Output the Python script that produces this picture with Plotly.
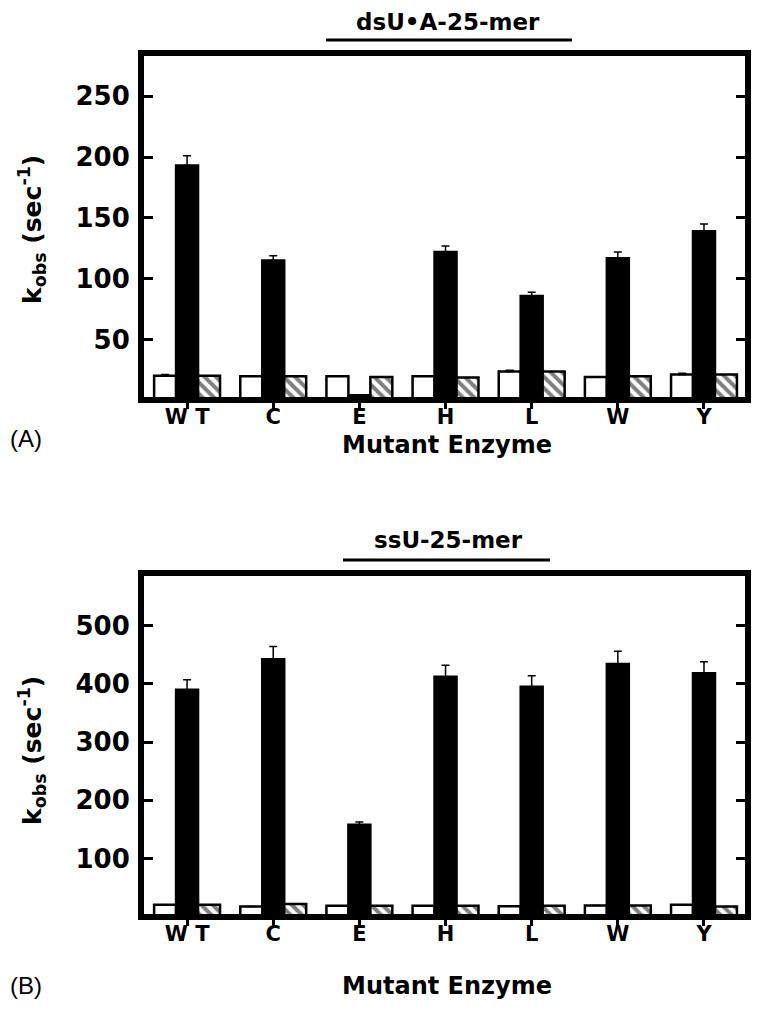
import plotly.graph_objects as go

categories = ["W T", "C", "E", "H", "L", "W", "Y"]

# Panel A: dsU•A-25-mer
a_open = [20.5, 20, 20, 20, 24, 19.5, 21.5]
a_open_err = [1, 0, 0, 0, 1, 0, 1]
a_black = [193, 115, 4.5, 122, 86, 117, 139]
a_black_err = [8, 4, 0, 5, 3, 5, 6]
a_hatch = [20.5, 20, 19.5, 19, 24, 20, 21.5]

# Panel B: ssU-25-mer
b_open = [21, 18, 19, 19, 18.5, 19.5, 21]
b_black = [390, 442, 158, 412, 395, 434, 418]
b_black_err = [17, 22, 5, 20, 19, 22, 20]
b_hatch = [21, 22, 19, 19, 19, 19.5, 18]

a_ticks = [50, 100, 150, 200, 250]
b_ticks = [100, 200, 300, 400, 500]

FONT = "DejaVu Sans"
OFF = 8  # page body margin
W_, H_ = 762, 1015
# inner plot-area edges in screen pixels
SL, SR, ST, SB = 144, 745, 56, 914
A_BOT, B_TOP = 397, 576
L = SL - OFF
T = ST - OFF
R = W_ - (SR - OFF)
B = H_ - (SB - OFF)
PW, PH = SR - SL, SB - ST


def px(x):
    return (x - SL) / PW


def py(y):
    return (SB - y) / PH


line = dict(color="black", width=2.5)
err_style = dict(type="data", color="black", thickness=1.5, width=4, visible=True)

fig = go.Figure()


def add_panel(xa, ya, opn, opn_err, blk, blk_err, hat):
    fig.add_trace(go.Bar(x=categories, y=opn, xaxis=xa, yaxis=ya,
                         marker=dict(color="white", line=line),
                         error_y=dict(array=opn_err, arrayminus=[0]*len(opn), symmetric=False, **err_style),
                         showlegend=False))
    fig.add_trace(go.Bar(x=categories, y=blk, xaxis=xa, yaxis=ya,
                         marker=dict(color="black", line=line),
                         error_y=dict(array=blk_err, arrayminus=[0]*len(blk), symmetric=False, **err_style),
                         showlegend=False))
    fig.add_trace(go.Bar(x=categories, y=hat, xaxis=xa, yaxis=ya,
                         marker=dict(color="white", line=line,
                                     pattern=dict(shape="\\", fgcolor="black", bgcolor="white",
                                                  size=8, solidity=0.5)),
                         showlegend=False))


add_panel("x", "y", a_open, a_open_err, a_black, a_black_err, a_hatch)
add_panel("x2", "y2", b_open, [0]*7, b_black, b_black_err, b_hatch)

xcommon = dict(showline=True, linewidth=6, linecolor="black", mirror=True,
               ticks="outside", ticklen=6, tickwidth=2.5, tickcolor="black",
               tickfont=dict(family=FONT, size=21, color="black", weight="bold"),
               ticklabelstandoff=-10,
               range=[-0.5, 6.476], showgrid=False, zeroline=False)
ycommon = dict(showline=True, linewidth=6, linecolor="black", mirror="ticks",
               ticks="inside", ticklen=9, tickwidth=2.5, tickcolor="black",
               tickfont=dict(family=FONT, size=26, color="black", weight="bold"),
               showgrid=False, zeroline=False, ticklabelstandoff=3)

fig.update_layout(
    width=W_, height=H_,
    margin=dict(l=L, r=R, t=T, b=B, pad=0),
    paper_bgcolor="white", plot_bgcolor="white",
    barmode="group", bargap=0.235, bargroupgap=0,
    xaxis=dict(domain=[0, 1], anchor="y", **xcommon),
    xaxis2=dict(domain=[0, 1], anchor="y2", **xcommon),
    yaxis=dict(domain=[py(A_BOT), 1], anchor="x", range=[3, 283], tickvals=a_ticks, **ycommon),
    yaxis2=dict(domain=[0, py(B_TOP)], anchor="x2", range=[5, 585], tickvals=b_ticks, **ycommon),
)

ann = []
bold = dict(family=FONT, size=23, color="black", weight="bold")
ann.append(dict(text="dsU•A-25-mer", x=px(448), y=py(22), font=bold))
ann.append(dict(text="ssU-25-mer", x=px(448), y=py(540), font=bold))
ann.append(dict(text="Mutant Enzyme", x=px(447), y=py(445),
                font=dict(family=FONT, size=24, color="black", weight="bold")))
ann.append(dict(text="Mutant Enzyme", x=px(447), y=py(986),
                font=dict(family=FONT, size=24, color="black", weight="bold")))
ann.append(dict(text="(A)", x=px(26), y=py(438), font=dict(family="Liberation Sans", size=24, color="black")))
ann.append(dict(text="(B)", x=px(26), y=py(985), font=dict(family="Liberation Sans", size=24, color="black")))
ytitle = "k<sub>obs</sub> (sec<sup>-1</sup>)"
ann.append(dict(text=ytitle, x=px(32), y=py(230), textangle=-90,
                font=dict(family=FONT, size=25, color="black", weight="bold")))
ann.append(dict(text=ytitle, x=px(32), y=py(751), textangle=-90,
                font=dict(family=FONT, size=25, color="black", weight="bold")))
for a in ann:
    a.update(xref="paper", yref="paper", showarrow=False, xanchor="center", yanchor="middle")
fig.update_layout(annotations=ann)

fig.add_shape(type="line", xref="paper", yref="paper", x0=px(326), x1=px(572), y0=py(40), y1=py(40),
              line=dict(color="black", width=3))
fig.add_shape(type="line", xref="paper", yref="paper", x0=px(343), x1=px(550), y0=py(560), y1=py(560),
              line=dict(color="black", width=3))

fig.write_html("out.html")
